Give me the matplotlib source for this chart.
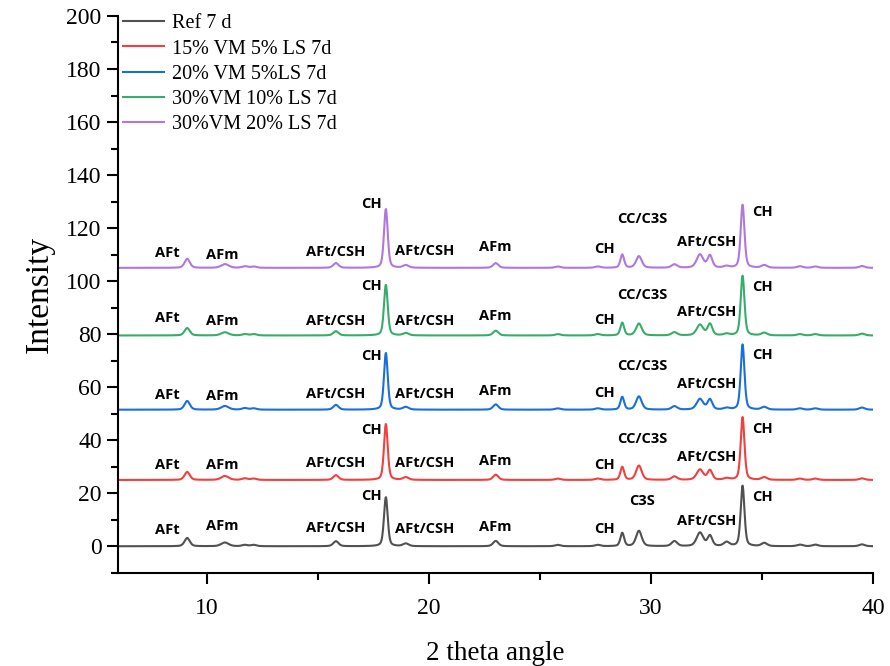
import numpy as np
import matplotlib
matplotlib.use("Agg")
import matplotlib.pyplot as plt
from matplotlib.ticker import MultipleLocator

# peak table (2 theta, height above each baseline)
peak_pos = [9.1, 10.8, 11.7, 12.1, 15.8, 18.05, 18.95, 23.0, 25.8, 27.6, 28.7,
            29.45, 31.05, 32.2, 32.65, 33.4, 34.12, 35.1, 36.7, 37.4, 39.5]
peak_fwhm = [0.28, 0.4, 0.3, 0.3, 0.28, 0.2, 0.3, 0.28, 0.3, 0.3, 0.2,
             0.3, 0.3, 0.35, 0.25, 0.3, 0.2, 0.3, 0.3, 0.3, 0.3]

names = ["Ref 7 d", "15% VM 5% LS 7d", "20% VM 5%LS 7d",
         "30%VM 10% LS 7d", "30%VM 20% LS 7d"]
colors = ["#515151", "#F14040", "#1A6FDF", "#37AD6B", "#B177DE"]
offsets = [0, 25, 51.5, 79.5, 105]

h_ref = [3.1, 1.4, 0.5, 0.5, 1.9, 18.5, 1.0, 2.0, 0.5, 0.5, 5.0, 5.8, 1.9, 5.1, 3.9, 1.5, 22.8, 1.2, 0.6, 0.6, 0.7]
h_15vm = [3.0, 1.5, 0.6, 0.5, 1.8, 21.1, 1.0, 2.0, 0.5, 0.5, 4.9, 5.4, 1.3, 3.9, 3.6, 0.6, 23.7, 1.0, 0.5, 0.5, 0.6]
h_20vm = [3.3, 1.4, 0.6, 0.5, 1.8, 21.4, 1.0, 2.0, 0.5, 0.5, 4.8, 5.0, 1.3, 4.0, 3.8, 0.6, 24.6, 1.0, 0.5, 0.5, 0.8]
h_30vm10 = [2.8, 1.2, 0.5, 0.5, 1.6, 19.1, 0.9, 1.8, 0.5, 0.5, 4.8, 4.5, 1.2, 4.0, 4.3, 0.6, 22.5, 1.0, 0.5, 0.5, 0.7]
h_30vm20 = [3.4, 1.4, 0.6, 0.5, 1.8, 22.2, 1.0, 1.8, 0.5, 0.5, 5.0, 4.4, 1.3, 5.0, 4.6, 0.6, 23.8, 1.0, 0.6, 0.5, 0.7]
heights = [h_ref, h_15vm, h_20vm, h_30vm10, h_30vm20]

# phase labels: x position and height above each baseline
label_x = [8.2, 10.7, 15.8, 17.4, 19.8, 23.0, 27.9, 29.6, 32.5, 35.0]
label_txt_ref = ["AFt", "AFm", "AFt/CSH", "CH", "AFt/CSH", "AFm", "CH", "C3S", "AFt/CSH", "CH"]
label_txt = ["AFt", "AFm", "AFt/CSH", "CH", "AFt/CSH", "AFm", "CH", "CC/C3S", "AFt/CSH", "CH"]
label_y = [
    [6.0, 7.5, 6.8, 18.8, 6.4, 7.2, 6.4, 16.9, 9.4, 18.5],
    [5.6, 5.6, 6.4, 18.8, 6.4, 7.2, 5.6, 15.4, 8.7, 19.2],
    [5.6, 5.3, 6.0, 20.3, 6.0, 7.2, 6.4, 16.6, 9.8, 20.7],
    [6.4, 5.3, 5.6, 18.5, 5.6, 7.2, 6.0, 15.4, 8.7, 18.1],
    [5.6, 4.9, 6.0, 24.1, 6.4, 7.9, 7.2, 18.5, 9.8, 21.1],
]


def pattern(x, hs):
    y = np.zeros_like(x)
    for p, w, h in zip(peak_pos, peak_fwhm, hs):
        g = np.exp(-4 * np.log(2) * ((x - p) / w) ** 2)
        l = 1 / (1 + 4 * ((x - p) / w) ** 2)
        y += h * (0.6 * g + 0.4 * l)
    return y


plt.rcParams['font.family'] = ['Liberation Serif', 'DejaVu Serif']

fig = plt.figure(figsize=(8.9, 6.66), dpi=100)
ax = fig.add_axes([0.133, 0.140, 0.848, 0.836])

x = np.linspace(6, 40, 3400)
for i in range(len(names)):
    ax.plot(x, pattern(x, heights[i]) + offsets[i], color=colors[i], lw=1.5, label=names[i])
    txts = label_txt_ref if i == 0 else label_txt
    for lx, ly, t in zip(label_x, label_y[i], txts):
        ax.text(lx, offsets[i] + ly, t, ha='center', va='center', fontsize=10.5,
                fontweight='bold', family=['Open Sans', 'DejaVu Sans'], color='black')

ax.set_xlim(6, 40)
ax.set_ylim(-10, 200)
ax.xaxis.set_major_locator(MultipleLocator(10))
ax.xaxis.set_minor_locator(MultipleLocator(5))
ax.yaxis.set_major_locator(MultipleLocator(20))
ax.yaxis.set_minor_locator(MultipleLocator(10))
ax.spines['top'].set_visible(False)
ax.spines['right'].set_visible(False)
for s in ['left', 'bottom']:
    ax.spines[s].set_linewidth(1.5)
ax.tick_params(which='major', direction='out', length=8, width=1.5, labelsize=17)
ax.tick_params(axis='x', which='major', pad=10)
ax.tick_params(axis='y', which='major', pad=4)
ax.tick_params(which='minor', direction='out', length=5, width=1.5)

ax.set_xlabel("2 theta angle", fontsize=19.5, labelpad=16)
ax.set_ylabel("Intensity", fontsize=24, labelpad=8)

ax.legend(loc='upper left', frameon=False, fontsize=14.5, handlelength=2.0,
          handletextpad=0.4, labelspacing=0.3, borderaxespad=0.0,
          bbox_to_anchor=(-0.004, 1.0175))

fig.savefig("out.png", dpi=100)
